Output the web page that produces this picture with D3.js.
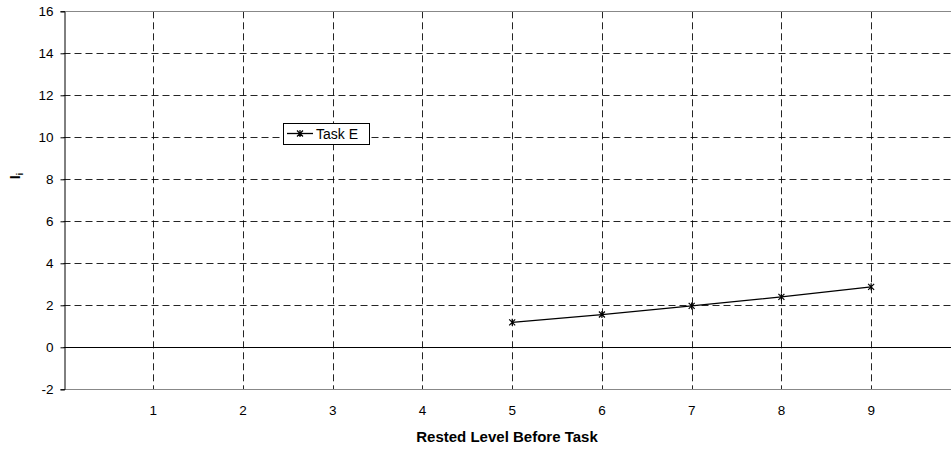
<!DOCTYPE html>
<html><head><meta charset="utf-8">
<script src="https://cdn.jsdelivr.net/npm/d3@7"></script>
<style>body{margin:0;background:#fff}svg{display:block;font-family:"Liberation Sans",Arial,sans-serif}</style>
</head><body>
<svg id="c" width="951" height="452"></svg>
<script>
const xValues = [5, 6, 7, 8, 9];
const yValues = [1.19, 1.56, 1.97, 2.4, 2.88];
const seriesName = "Task E";
const xTicks = [1, 2, 3, 4, 5, 6, 7, 8, 9];
const yTicks = [-2, 0, 2, 4, 6, 8, 10, 12, 14, 16];
const xTitle = "Rested Level Before Task";

const svg = d3.select("#c");
const L = 63.5, R = 951, T = 11.3, B = 389.3;
const x = d3.scaleLinear().domain([0, 9.89]).range([L, R]);
const y = d3.scaleLinear().domain([-2, 16]).range([B, T]);
const FS = 13.5;

// grid
svg.append("g").selectAll("line").data(yTicks.filter(d => d > -2 && d < 16 && d !== 0)).join("line")
  .attr("x1", L).attr("x2", R).attr("y1", d => Math.round(y(d)) + 0.5).attr("y2", d => Math.round(y(d)) + 0.5)
  .attr("stroke", "#000").attr("stroke-dasharray", "7,4").attr("stroke-width", 1).attr("opacity", 0.85);
svg.append("g").selectAll("line").data(xTicks).join("line")
  .attr("y1", T).attr("y2", B).attr("x1", d => Math.round(x(d)) + 0.5).attr("x2", d => Math.round(x(d)) + 0.5)
  .attr("stroke", "#000").attr("stroke-dasharray", "7,4").attr("stroke-width", 1).attr("opacity", 0.85);

// borders
svg.append("line").attr("x1", L).attr("x2", R).attr("y1", Math.round(y(16)) + 0.5).attr("y2", Math.round(y(16)) + 0.5).attr("stroke", "#888");
svg.append("line").attr("x1", L).attr("x2", R).attr("y1", Math.round(y(-2)) + 0.5).attr("y2", Math.round(y(-2)) + 0.5).attr("stroke", "#888");
svg.append("line").attr("x1", L).attr("x2", R).attr("y1", Math.round(y(0)) + 0.5).attr("y2", Math.round(y(0)) + 0.5).attr("stroke", "#000");

// y axis
const ya = svg.append("g").attr("transform", `translate(${Math.round(L) + 0.5},0)`)
  .call(d3.axisLeft(y).tickValues(yTicks).tickSize(4).tickPadding(7).tickFormat(d => String(d)));
ya.select(".domain").attr("stroke", "#000");
ya.selectAll("text").attr("font-size", FS).attr("font-family", "Liberation Sans, Arial, sans-serif").attr("fill", "#000");
ya.selectAll(".tick line").attr("stroke", "#000");

// x labels
svg.append("g").selectAll("text").data(xTicks).join("text")
  .attr("x", d => x(d)).attr("y", 415).attr("text-anchor", "middle")
  .attr("font-size", FS).text(d => d);

// titles
svg.append("text").attr("x", 507).attr("y", 442).attr("text-anchor", "middle")
  .attr("font-size", 15).attr("font-weight", "bold").text(xTitle);
const yl = svg.append("text").attr("transform", "translate(20,176) rotate(-90)")
  .attr("text-anchor", "middle").attr("font-size", 14).attr("font-weight", "bold");
yl.append("tspan").text("I");
yl.append("tspan").attr("font-size", 9).attr("dy", 3).text("i");

// series
const pts = xValues.map((v, i) => [v, yValues[i]]);
svg.append("path").datum(pts)
  .attr("d", d3.line().x(d => x(d[0])).y(d => y(d[1])))
  .attr("fill", "none").attr("stroke", "#000").attr("stroke-width", 1.3);
function star(g, cx, cy, s) {
  const p = `M${cx - s},${cy - s}L${cx + s},${cy + s}M${cx - s},${cy + s}L${cx + s},${cy - s}M${cx},${cy - s - 0.5}L${cx},${cy + s + 0.5}`;
  g.append("path").attr("d", p).attr("stroke", "#000").attr("stroke-width", 1.2).attr("fill", "none");
}
const mk = svg.append("g");
pts.forEach(d => star(mk, x(d[0]), y(d[1]), 3));

// legend
const lg = svg.append("g");
lg.append("rect").attr("x", 283.5).attr("y", 123.5).attr("width", 86).attr("height", 21)
  .attr("fill", "#fff").attr("stroke", "#000");
lg.append("line").attr("x1", 287).attr("x2", 313).attr("y1", 133.5).attr("y2", 133.5).attr("stroke", "#000").attr("stroke-width", 1.3);
star(lg, 300, 133.5, 3);
lg.append("text").attr("x", 316).attr("y", 138.5).attr("font-size", 14).text(seriesName);
</script>
</body></html>
